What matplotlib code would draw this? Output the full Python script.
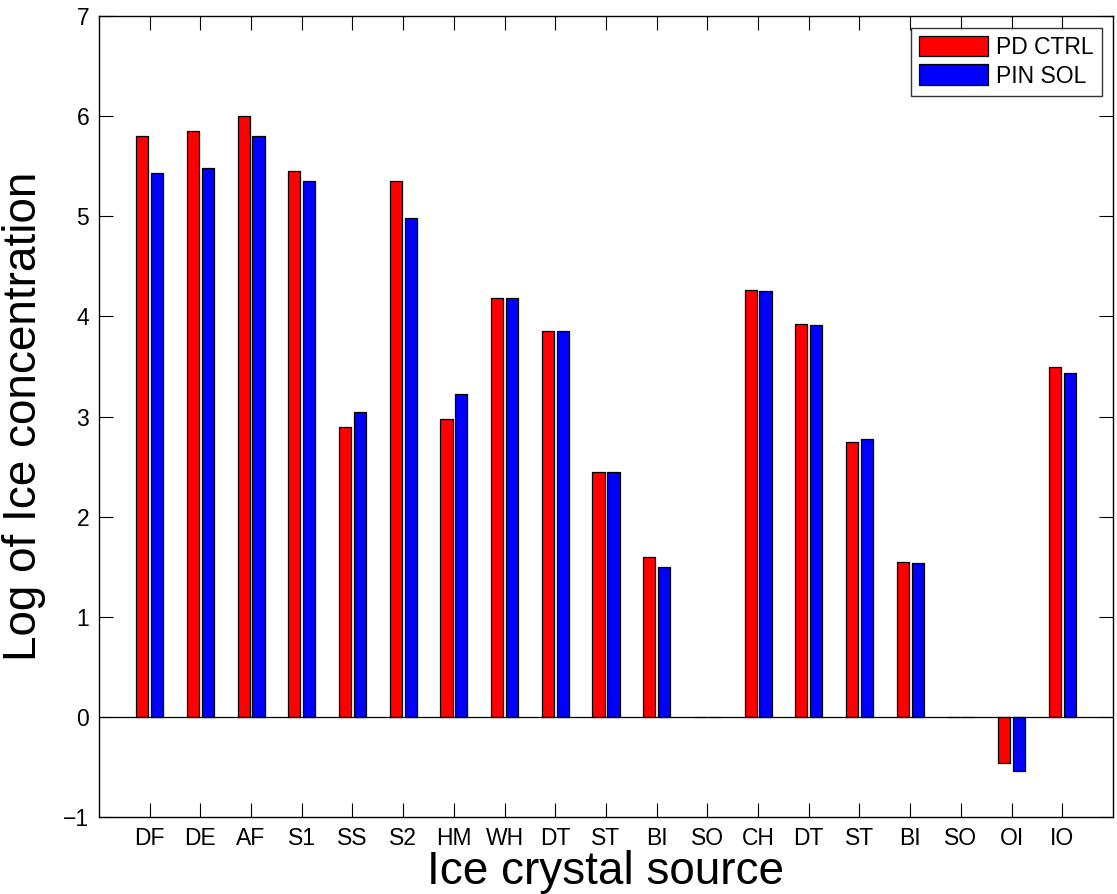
import matplotlib.pyplot as plt
import numpy as np

plt.rcParams['font.family'] = ['Liberation Sans', 'DejaVu Sans']

sources = ['DF', 'DE', 'AF', 'S1', 'SS', 'S2', 'HM', 'WH', 'DT', 'ST',
           'BI', 'SO', 'CH', 'DT', 'ST', 'BI', 'SO', 'OI', 'IO']
pd_ctrl = [5.80, 5.85, 6.00, 5.45, 2.90, 5.35, 2.98, 4.18, 3.85, 2.45,
           1.60, 0.0, 4.26, 3.92, 2.75, 1.55, 0.0, -0.46, 3.50]
pin_sol = [5.43, 5.48, 5.80, 5.35, 3.05, 4.98, 3.23, 4.18, 3.85, 2.45,
           1.50, 0.0, 4.25, 3.91, 2.78, 1.54, 0.0, -0.54, 3.44]

x = np.arange(1, len(sources) + 1)
w = 0.24

fig = plt.figure(figsize=(11.17, 8.94), dpi=100)
ax = fig.add_axes([0.0886, 0.0861, 0.9078, 0.8959])

ax.bar(x - 0.147, pd_ctrl, w, color='#ff0000', edgecolor='black', linewidth=0.9, label='PD CTRL')
ax.bar(x + 0.147, pin_sol, w, color='#0000ff', edgecolor='black', linewidth=0.9, label='PIN SOL')
ax.axhline(0, color='black', linewidth=0.9)

ax.set_xlim(0, 20)
ax.set_ylim(-1, 7)
ax.set_xticks(x)
ax.set_xticklabels(sources)
ax.set_yticks(range(-1, 8))
ax.tick_params(direction='in', length=10, width=0.8, top=True, right=True,
               labelsize=16.5, pad=7)
for s in ax.spines.values():
    s.set_linewidth(1.0)

ax.set_xlabel('Ice crystal source', fontsize=33, labelpad=0)
ax.set_ylabel('Log of Ice concentration', fontsize=33, labelpad=12)

leg = ax.legend(loc='upper right', fontsize=16.5, frameon=True, fancybox=False,
                edgecolor='black', handlelength=3.0, handleheight=1.0,
                handletextpad=0.35, borderpad=0.35, labelspacing=0.25,
                borderaxespad=0.5)
leg.get_frame().set_linewidth(1.0)

fig.savefig('out.png', dpi=100)
